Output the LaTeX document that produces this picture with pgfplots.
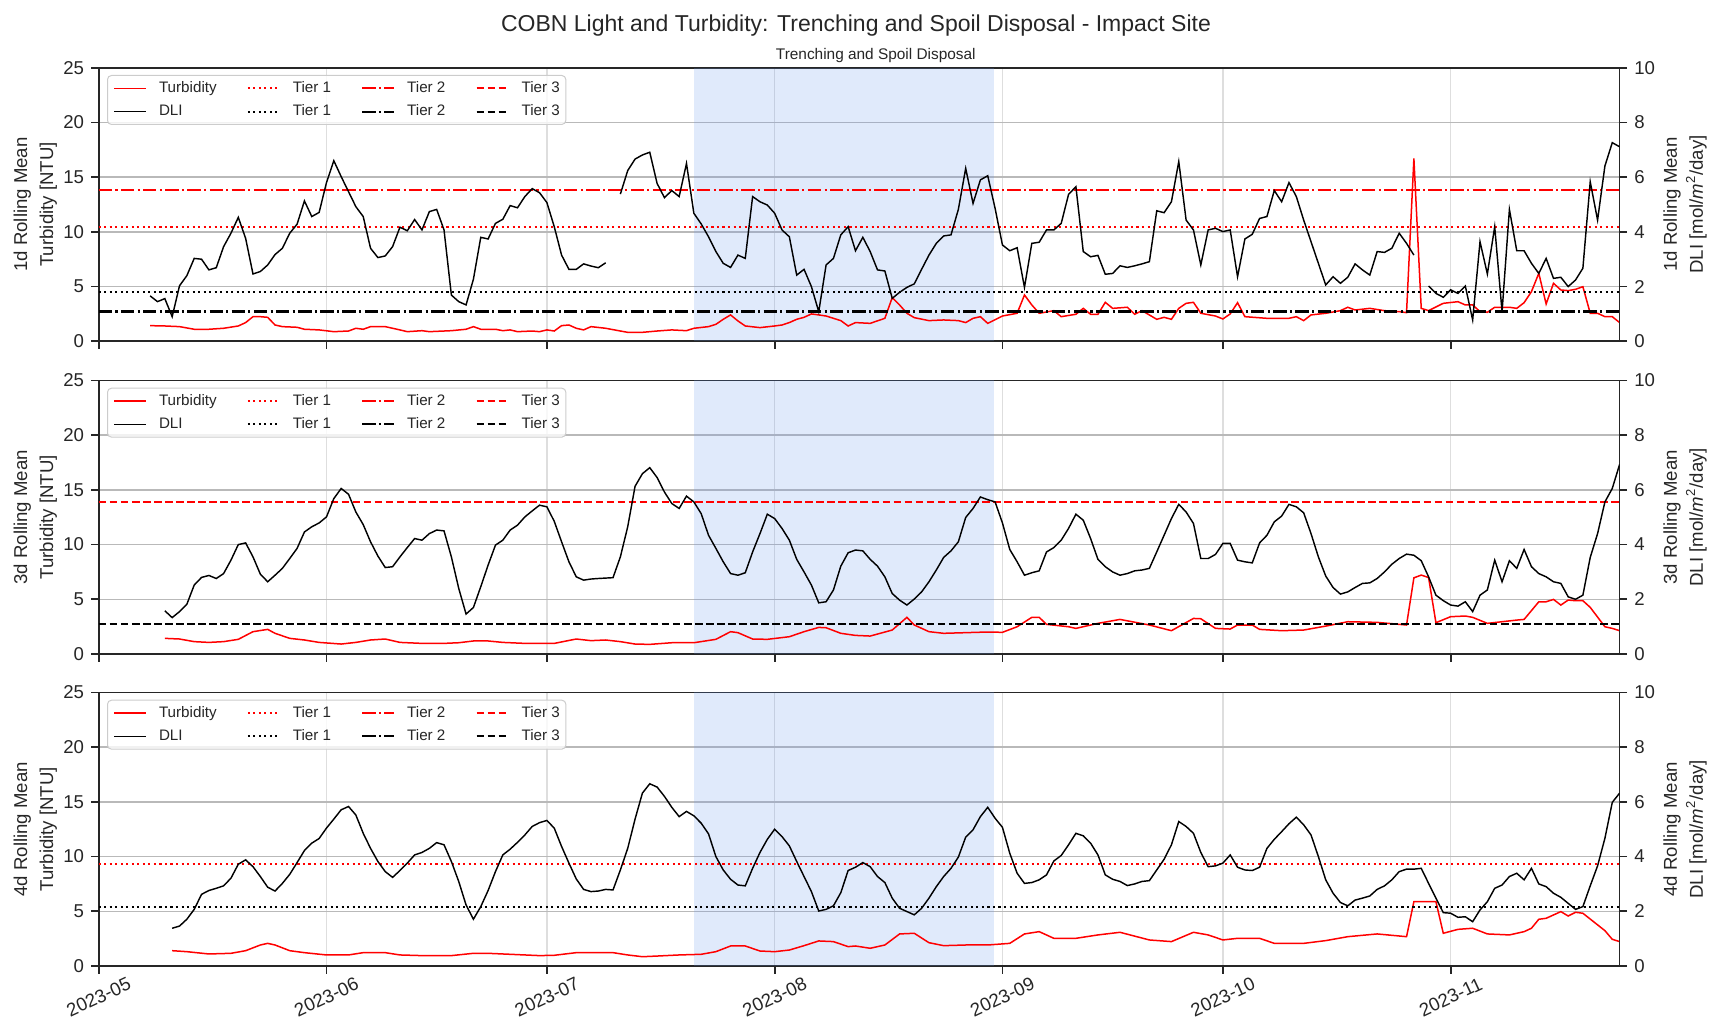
\documentclass[border=0pt]{standalone}
\usepackage{fontspec}
\setmainfont{Liberation Sans}
\usepackage{pgfplots}
\pgfplotsset{compat=1.18}

\definecolor{spine}{RGB}{38,38,38}
\definecolor{shade}{RGB}{100,149,237}
\definecolor{hgrid}{RGB}{185,185,185}
\definecolor{vgrid}{RGB}{222,222,222}
\definecolor{legedge}{RGB}{204,204,204}
\definecolor{tred}{RGB}{255,0,0}

\pgfplotsset{
  common/.style={
    scale only axis, width=760.45pt, height=136.8pt,
    xmin=0, xmax=207,
    anchor=south west,
    axis line style={spine, line width=0.87pt},
    every tick/.style={spine, line width=0.87pt},
    major tick length=3.8pt,
    tick align=outside,
    tick label style={font=\fontsize{9.3}{11}\selectfont, text=spine},
    /pgf/number format/assume math mode=true,
    label style={font=\fontsize{9.3}{13}\selectfont, text=spine, align=center},
  },
  lpanel/.style={
    common,
    ymin=0, ymax=25,
    xtick={0,31,61,92,123,153,184},
    ytick={0,5,10,15,20,25},
    xtick pos=left, ytick pos=left,
    xmajorgrids, ymajorgrids,
    x grid style={vgrid, line width=0.69pt},
    y grid style={hgrid, line width=0.69pt},
    xticklabels={},
    ylabel style={at={(axis description cs:-0.04175,0.5)}, anchor=center},
  },
  rpanel/.style={
    common,
    ymin=0, ymax=10,
    axis x line=none, axis y line*=right,
    ytick={0,2,4,6,8,10},
    ylabel style={at={(axis description cs:1.043,0.5)}, anchor=center},
    legend columns=4,
    legend cell align=left,
    legend style={at={(0,1)}, anchor=north west, xshift=4.15pt, yshift=-3.65pt,
      draw=legedge, line width=0.5pt, rounded corners=2pt, fill=white, fill opacity=0.8, text opacity=1,
      font=\fontsize{7.6}{9}\selectfont, text=spine, inner xsep=3pt, inner ysep=2.9pt, row sep=4.67pt,
      nodes={inner xsep=0pt, inner ysep=0pt, text height=5.5pt, text depth=1.5pt},
      /tikz/every odd column/.append style={column sep=6pt},
      /tikz/every even column/.append style={column sep=15pt}},
    legend image code/.code={\draw[#1] (0pt,0pt) -- (16pt,0pt);},
  },
  turb/.style={tred, line width=0.75pt},
  dli/.style={black, line width=0.72pt},
  t1r/.style={tred, line width=1.04pt, dash pattern=on 1.04pt off 1.72pt},
  t2r/.style={tred, line width=1.04pt, dash pattern=on 6.7pt off 1.67pt on 1.04pt off 1.67pt},
  t3r/.style={tred, line width=1.04pt, dash pattern=on 3.85pt off 1.67pt},
  t1b/.style={black, line width=1.04pt, dash pattern=on 1.04pt off 1.72pt},
  t2b/.style={black, line width=1.04pt, dash pattern=on 6.7pt off 1.67pt on 1.04pt off 1.67pt},
  t3b/.style={black, line width=1.04pt, dash pattern=on 3.85pt off 1.67pt},
  shadeplot/.style={draw=none, fill=shade, fill opacity=0.2},
}

\newcommand{\legendentries}{%
  \addlegendimage{turb}\addlegendentry{Turbidity}
  \addlegendimage{t1r}\addlegendentry{Tier 1}
  \addlegendimage{t2r}\addlegendentry{Tier 2}
  \addlegendimage{t3r}\addlegendentry{Tier 3}
  \addlegendimage{dli}\addlegendentry{DLI}
  \addlegendimage{t1b}\addlegendentry{Tier 1}
  \addlegendimage{t2b}\addlegendentry{Tier 2}
  \addlegendimage{t3b}\addlegendentry{Tier 3}
}

\begin{document}
\begin{tikzpicture}
\path[use as bounding box] (0,0) rectangle (855.5pt,509.5pt);

\node[font=\fontsize{11.5}{14}\selectfont, text=spine, anchor=base] at (428pt,493.6pt) {COBN Light and Turbidity: Trenching and Spoil Disposal - Impact Site};
\node[font=\fontsize{7.7}{9}\selectfont, text=spine, anchor=base] at (437.9pt,479.5pt) {Trenching and Spoil Disposal};

% ================= Panel 1 =================
\begin{axis}[lpanel, at={(49.35pt,338.85pt)}, ylabel={1d Rolling Mean\\Turbidity [NTU]}]
\addplot[shadeplot] coordinates {(81,25) (121.9,25)} \closedcycle;
\addplot[t1r] coordinates {(0,10.45) (207,10.45)};
\addplot[t2r] coordinates {(0,13.85) (207,13.85)};
\addplot[turb] table {
7 1.43
9 1.40
11 1.34
13 1.10
15 1.10
17 1.19
19 1.40
20 1.71
21 2.25
22 2.25
23 2.19
24 1.49
25 1.34
27 1.28
28 1.10
30 1.04
32 0.88
34 0.94
35 1.19
36 1.10
37 1.34
39 1.34
41 1.04
42 0.88
44 0.97
45 0.88
48 0.97
50 1.10
51 1.34
52 1.10
54 1.10
55 0.97
56 1.04
57 0.88
59 0.94
60 0.88
61 1.04
62 0.94
63 1.43
64 1.49
65 1.19
66 1.04
67 1.34
69 1.19
71 0.94
72 0.82
74 0.82
76 0.94
78 1.04
80 0.97
81 1.19
83 1.34
84 1.55
85 2.01
86 2.41
87 1.86
88 1.40
90 1.25
92 1.40
93 1.49
94 1.71
95 2.01
96 2.19
97 2.50
98 2.41
99 2.31
100 2.10
101 1.89
102 1.40
103 1.71
105 1.64
107 2.10
108 3.99
109 3.32
110 2.56
111 2.16
113 1.89
115 1.95
117 1.89
118 1.71
119 2.10
120 2.25
121 1.64
123 2.31
125 2.56
126 4.23
127 3.32
128 2.56
130 2.80
131 2.25
133 2.47
134 3.01
135 2.47
136 2.47
137 3.56
138 3.01
140 3.11
141 2.47
142 2.80
144 2.01
145 2.19
146 2.01
147 3.01
148 3.47
149 3.56
150 2.56
152 2.31
153 2.04
154 2.50
155 3.53
156 2.25
159 2.10
162 2.10
163 2.25
164 1.89
165 2.41
167 2.56
169 2.80
170 3.11
171 2.86
173 3.01
175 2.80
177 2.71
178 2.62
179 16.7
180 3.01
181 2.80
183 3.47
185 3.62
186 3.32
187 3.32
188 2.71
189 2.65
190 3.11
192 3.11
193 3.01
194 3.53
195 4.54
196 6.21
197 3.41
198 5.30
199 4.69
200 4.63
201 4.75
202 4.99
203 2.56
204 2.56
205 2.25
206 2.25
207 1.71
};
\end{axis}
\begin{axis}[rpanel, at={(49.35pt,338.85pt)}, ylabel={1d Rolling Mean\\DLI [mol/\textit{m}\textsuperscript{2}/day]}, unbounded coords=jump]
\legendentries
\addplot[t1b, forget plot] coordinates {(0,1.79) (207,1.79)};
\addplot[t2b, forget plot] coordinates {(0,1.09) (207,1.09)};
\addplot[dli, forget plot] table {
7 1.66
8 1.45
9 1.56
10 0.90
11 2.03
12 2.40
13 3.03
14 3.00
15 2.61
16 2.69
17 3.46
18 3.95
19 4.53
20 3.76
21 2.46
22 2.55
23 2.79
24 3.17
25 3.40
26 3.95
27 4.28
28 5.13
29 4.56
30 4.71
31 5.80
32 6.60
33 6.02
34 5.47
35 4.92
36 4.56
37 3.40
38 3.06
39 3.12
40 3.46
41 4.17
42 4.04
43 4.45
44 4.07
45 4.74
46 4.82
47 4.07
48 1.69
49 1.45
50 1.33
51 2.27
52 3.80
53 3.74
54 4.31
55 4.46
56 4.96
57 4.88
58 5.29
59 5.58
60 5.43
61 5.07
62 4.19
63 3.15
64 2.63
65 2.63
66 2.83
67 2.75
68 2.69
69 2.87
70 nan
71 5.38
72 6.24
73 6.66
74 6.81
75 6.91
76 5.77
77 5.25
78 5.51
79 5.29
80 6.50
81 4.68
82 4.29
83 3.82
84 3.28
85 2.85
86 2.70
87 3.15
88 3.03
89 5.29
90 5.10
91 4.98
92 4.68
93 4.07
94 3.82
95 2.42
96 2.63
97 2.00
98 1.08
99 2.79
100 3.03
101 3.89
102 4.19
103 3.31
104 3.80
105 3.28
106 2.61
107 2.57
108 1.57
109 1.79
110 1.97
111 2.10
112 2.63
113 3.15
114 3.58
115 3.85
116 3.89
117 4.82
118 6.32
119 5.04
120 5.90
121 6.05
122 4.86
123 3.52
124 3.31
125 3.42
126 1.97
127 3.58
128 3.62
129 4.07
130 4.07
131 4.31
132 5.37
133 5.65
134 3.28
135 3.09
136 3.14
137 2.45
138 2.48
139 2.76
140 2.70
141 2.76
142 2.83
143 2.91
144 4.77
145 4.70
146 5.10
147 6.57
148 4.43
149 4.07
150 2.79
151 4.07
152 4.13
153 4.01
154 4.07
155 2.36
156 3.74
157 3.91
158 4.49
159 4.56
160 5.51
161 5.10
162 5.80
163 5.29
164 4.43
165 3.64
166 2.85
167 2.06
168 2.36
169 2.12
170 2.34
171 2.83
172 2.61
173 2.42
174 3.28
175 3.25
176 3.40
177 3.95
178 3.58
179 3.15
180 nan
181 2.02
182 1.75
183 1.61
184 1.88
185 1.75
186 2.02
187 0.78
188 3.64
189 2.46
190 4.19
191 1.08
192 4.82
193 3.31
194 3.31
195 2.85
196 2.48
197 3.03
198 2.30
199 2.34
200 2.00
201 2.24
202 2.67
203 5.83
204 4.43
205 6.41
206 7.26
207 7.11
};
\end{axis}

% ================= Panel 2 =================
\begin{axis}[lpanel, at={(49.35pt,182.5pt)}, ylabel={3d Rolling Mean\\Turbidity [NTU]}]
\addplot[shadeplot] coordinates {(81,25) (121.9,25)} \closedcycle;
\addplot[t3r] coordinates {(0,13.87) (207,13.87)};
\addplot[turb] table {
9 1.43
11 1.37
13 1.13
15 1.06
17 1.13
19 1.34
21 2.04
23 2.25
24 1.89
26 1.43
28 1.28
30 1.06
33 0.91
35 1.06
37 1.28
39 1.37
41 1.06
44 0.97
47 0.97
49 1.03
51 1.19
53 1.19
55 1.06
58 0.97
62 0.97
65 1.37
67 1.22
69 1.28
71 1.13
73 0.91
75 0.88
78 1.03
81 1.03
84 1.34
86 2.04
87 1.95
89 1.37
91 1.34
94 1.58
96 2.04
98 2.43
99 2.40
101 1.89
103 1.70
105 1.64
108 2.19
110 3.35
111 2.65
113 2.04
115 1.89
118 1.95
121 2.01
123 1.98
125 2.49
127 3.35
128 3.35
129 2.71
132 2.49
133 2.34
136 2.80
139 3.16
143 2.65
146 2.13
149 3.25
150 3.22
152 2.34
154 2.28
155 2.65
157 2.65
158 2.25
161 2.13
164 2.19
167 2.55
170 2.95
174 2.89
178 2.65
179 6.96
180 7.21
181 6.99
182 2.86
184 3.41
186 3.47
187 3.35
189 2.80
191 2.95
193 3.10
194 3.16
196 4.77
197 4.77
198 4.99
199 4.47
200 4.93
201 4.87
202 4.87
203 4.26
205 2.49
206 2.34
207 2.13
};
\end{axis}
\begin{axis}[rpanel, at={(49.35pt,182.5pt)}, ylabel={3d Rolling Mean\\DLI [mol/\textit{m}\textsuperscript{2}/day]}]
\legendentries
\addplot[t3b, forget plot] coordinates {(0,1.1) (207,1.1)};
\addplot[dli, forget plot] table {
9 1.58
10 1.33
11 1.55
12 1.82
13 2.52
14 2.80
15 2.87
16 2.76
17 2.94
18 3.43
19 4.00
20 4.06
21 3.55
22 2.92
23 2.64
24 2.88
25 3.13
26 3.49
27 3.86
28 4.46
29 4.65
30 4.79
31 5.01
32 5.68
33 6.05
34 5.84
35 5.19
36 4.73
37 4.10
38 3.58
39 3.16
40 3.19
41 3.55
42 3.89
43 4.22
44 4.16
45 4.40
46 4.53
47 4.50
48 3.55
49 2.40
50 1.46
51 1.70
52 2.46
53 3.25
54 3.98
55 4.16
56 4.53
57 4.71
58 5.01
59 5.23
60 5.44
61 5.38
62 4.85
63 4.10
64 3.37
65 2.82
66 2.70
67 2.74
68 2.76
70 2.79
71 3.55
72 4.65
73 6.13
74 6.59
75 6.81
76 6.45
77 5.92
78 5.50
79 5.32
80 5.77
81 5.56
82 5.13
83 4.34
84 3.86
85 3.37
86 2.94
87 2.88
88 2.97
89 3.73
90 4.40
91 5.11
92 4.95
93 4.59
94 4.16
95 3.46
96 3.00
97 2.52
98 1.87
99 1.91
100 2.34
101 3.21
102 3.70
103 3.80
104 3.77
105 3.46
106 3.21
107 2.82
108 2.21
109 1.97
110 1.79
111 2.01
112 2.27
113 2.64
114 3.07
115 3.53
116 3.77
117 4.10
118 4.99
119 5.32
120 5.74
121 5.64
122 5.56
123 4.79
124 3.82
125 3.37
126 2.88
127 2.97
128 3.04
129 3.73
130 3.89
131 4.16
132 4.59
133 5.11
134 4.89
135 4.22
136 3.46
137 3.19
138 3.00
139 2.88
140 2.94
141 3.04
142 3.07
143 3.13
144 3.73
145 4.34
146 4.95
147 5.47
148 5.19
149 4.77
150 3.49
151 3.49
152 3.64
153 4.04
154 4.04
155 3.43
156 3.37
157 3.33
158 4.06
159 4.34
160 4.83
161 5.04
162 5.47
163 5.38
164 5.16
165 4.40
166 3.55
167 2.85
168 2.43
169 2.19
170 2.27
171 2.43
172 2.58
173 2.60
174 2.76
175 3.00
176 3.28
177 3.49
178 3.65
179 3.61
180 3.41
181 2.82
182 2.15
183 1.95
184 1.79
185 1.75
186 1.91
187 1.55
188 2.15
189 2.34
190 3.43
191 2.64
192 3.41
193 3.13
194 3.82
195 3.19
196 2.94
197 2.82
198 2.64
199 2.58
200 2.09
201 2.00
202 2.15
203 3.53
204 4.40
205 5.56
206 6.05
207 6.93
};
\end{axis}

% ================= Panel 3 =================
\begin{axis}[lpanel, at={(49.35pt,26.5pt)}, ylabel={4d Rolling Mean\\Turbidity [NTU]},
  xticklabels={2023-05,2023-06,2023-07,2023-08,2023-09,2023-10,2023-11},
  xticklabel style={anchor=center, yshift=-11.75pt, rotate=25}]
\addplot[shadeplot] coordinates {(81,25) (121.9,25)} \closedcycle;
\addplot[t1r] coordinates {(0,9.33) (207,9.33)};
\addplot[turb] table {
10 1.40
12 1.31
15 1.10
18 1.16
20 1.40
22 1.92
23 2.07
24 1.92
26 1.40
28 1.22
31 1.01
34 1.01
36 1.22
39 1.22
41 1.01
44 0.95
48 0.95
51 1.16
53 1.16
58 1.01
60 0.95
62 0.98
65 1.22
67 1.22
70 1.22
72 1.01
74 0.85
76 0.91
79 1.01
82 1.07
84 1.31
86 1.83
88 1.83
90 1.37
92 1.31
94 1.46
96 1.86
98 2.29
100 2.23
102 1.77
103 1.83
105 1.62
107 1.92
109 2.93
111 2.99
113 2.13
115 1.86
118 1.92
121 1.92
124 2.07
126 2.93
128 3.14
130 2.53
133 2.53
136 2.84
139 3.08
143 2.38
146 2.23
149 3.08
151 2.84
153 2.38
155 2.53
158 2.53
160 2.07
164 2.07
167 2.32
170 2.68
174 2.93
178 2.68
179 5.88
182 5.88
183 2.99
185 3.35
187 3.45
189 2.93
192 2.84
194 3.14
195 3.45
196 4.27
197 4.36
199 4.97
200 4.57
201 4.91
202 4.82
205 3.23
206 2.44
207 2.23
};
\end{axis}
\begin{axis}[rpanel, at={(49.35pt,26.5pt)}, ylabel={4d Rolling Mean\\DLI [mol/\textit{m}\textsuperscript{2}/day]}]
\legendentries
\addplot[t1b, forget plot] coordinates {(0,2.17) (207,2.17)};
\addplot[dli, forget plot] table {
10 1.38
11 1.46
12 1.71
13 2.07
14 2.62
15 2.76
16 2.84
17 2.93
18 3.21
19 3.72
20 3.88
21 3.63
22 3.27
23 2.88
24 2.74
25 3.02
26 3.35
27 3.78
28 4.22
29 4.49
30 4.66
31 5.04
32 5.37
33 5.71
34 5.83
35 5.52
36 4.85
37 4.30
38 3.82
39 3.45
40 3.24
41 3.49
42 3.76
43 4.06
44 4.15
45 4.30
46 4.51
47 4.43
48 3.82
49 3.09
50 2.23
51 1.71
52 2.17
53 2.76
54 3.45
55 4.06
56 4.27
57 4.52
58 4.79
59 5.10
60 5.24
61 5.32
62 5.04
63 4.37
64 3.76
65 3.18
66 2.80
67 2.72
68 2.74
69 2.80
70 2.78
71 3.51
72 4.30
73 5.37
74 6.32
75 6.66
76 6.54
77 6.20
78 5.80
79 5.46
80 5.65
81 5.49
82 5.22
83 4.83
84 4.00
85 3.51
86 3.17
87 2.96
88 2.93
89 3.57
90 4.15
91 4.63
92 5.00
93 4.73
94 4.39
95 3.82
96 3.27
97 2.72
98 2.01
99 2.07
100 2.20
101 2.68
102 3.49
103 3.61
104 3.78
105 3.63
106 3.27
107 3.05
108 2.48
109 2.11
110 1.99
111 1.87
112 2.11
113 2.48
114 2.90
115 3.27
116 3.57
117 3.98
118 4.71
119 4.98
120 5.46
121 5.80
122 5.40
123 5.07
124 4.12
125 3.39
126 3.02
127 3.05
128 3.15
129 3.33
130 3.84
131 4.04
132 4.43
133 4.85
134 4.76
135 4.49
136 4.06
137 3.33
138 3.17
139 3.09
140 2.94
141 3.00
142 3.09
143 3.12
144 3.51
145 3.90
146 4.43
147 5.28
148 5.10
149 4.85
150 4.15
151 3.63
152 3.66
153 3.76
154 4.06
155 3.61
156 3.51
157 3.49
158 3.61
159 4.30
160 4.63
161 4.91
162 5.20
163 5.44
164 5.16
165 4.79
166 4.00
167 3.15
168 2.66
169 2.32
170 2.20
171 2.41
172 2.48
173 2.56
174 2.80
175 2.93
176 3.15
177 3.45
178 3.54
179 3.54
180 3.57
181 3.02
182 2.48
183 1.95
184 1.93
185 1.78
186 1.80
187 1.62
188 2.05
189 2.35
190 2.84
191 2.96
192 3.27
193 3.39
194 3.15
195 3.57
196 3.00
197 2.90
198 2.66
199 2.51
200 2.29
201 2.07
202 2.17
203 2.93
204 3.66
205 4.67
206 5.98
207 6.32
};
\end{axis}
\end{tikzpicture}
\end{document}
